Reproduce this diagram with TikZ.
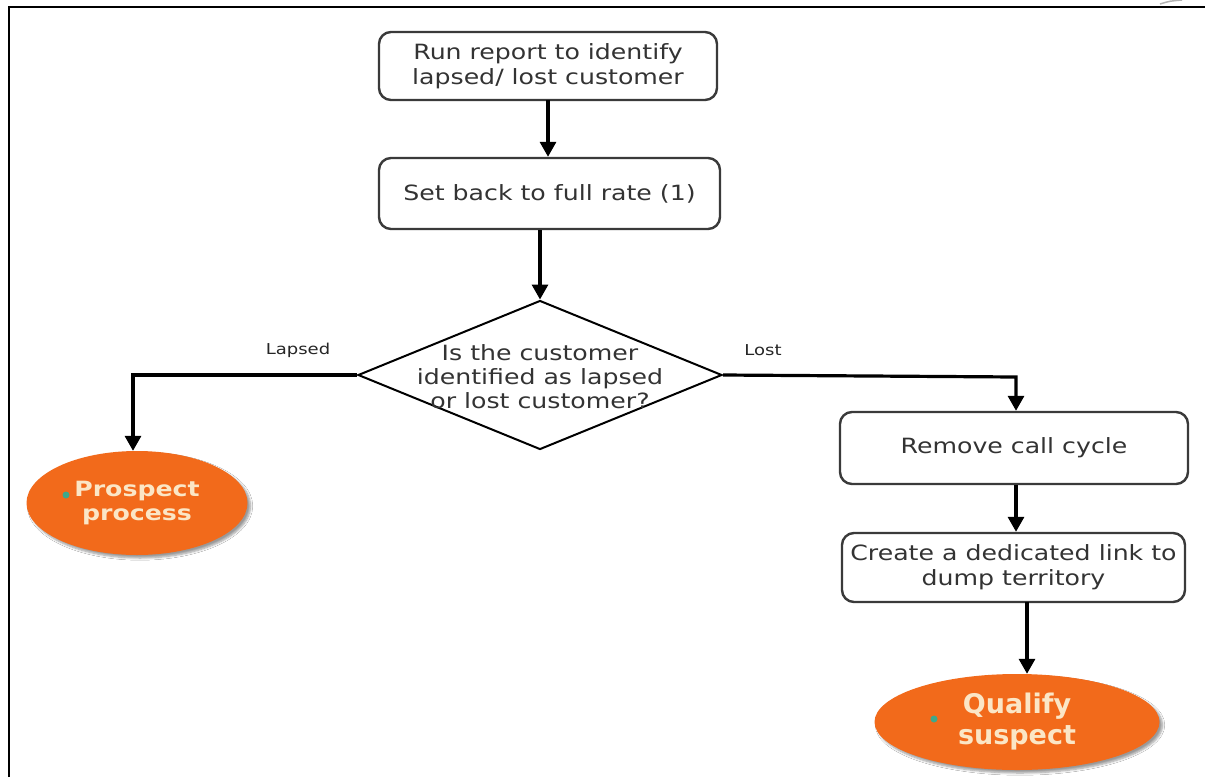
\documentclass[tikz,border=0pt]{standalone}
\usepackage{fontspec}
\setmainfont{DejaVu Sans}[FakeStretch=1.2]
\newfontfamily\ellfont{DejaVu Sans}
\usetikzlibrary{shapes.geometric,arrows.meta,shadows.blur}
\definecolor{boxline}{HTML}{3A3A3A}
\definecolor{txt}{HTML}{333333}
\definecolor{orng}{HTML}{F26A1B}
\definecolor{cream}{HTML}{FBE6C6}
\definecolor{gdot}{HTML}{3FA88A}
\begin{document}
\begin{tikzpicture}[x=1pt,y=-1pt,
  stepbox/.style={draw=boxline,line width=2.4pt,rounded corners=12pt,fill=white,text=txt,align=center,font=\fontsize{21}{25}\selectfont,inner sep=0pt},
  term/.style={ellipse,fill=orng,draw=none,text=cream,align=center,inner sep=0pt,blur shadow={shadow xshift=3pt,shadow yshift=-3pt,shadow blur steps=6}},
  conn/.style={draw=black,line width=3.2pt,-{Triangle[width=16pt,length=15pt]}},
  lbl/.style={font=\fontsize{15}{18}\selectfont,text=black!85}]
\useasboundingbox (0,0) rectangle (1205,777);
\fill[white] (0,0) rectangle (1205,777);
% frame
\draw[line width=2.5pt] (9,777) -- (9,7) -- (1205,7);
\draw[gray!60,line width=1.5pt] (1160,4) .. controls (1170,1) .. (1182,0);
% nodes
\node[stepbox,minimum width=338pt,minimum height=68pt] (b1) at (548,66) {Run report to identify\\lapsed/ lost customer};
\node[stepbox,minimum width=341pt,minimum height=71pt] (b2) at (549.5,193.5) {Set back to full rate (1)};
\node[diamond,draw=black,line width=2pt,fill=white,minimum width=364pt,minimum height=149pt,inner sep=0pt] (d) at (540,375) {};
\node[text=txt,align=center,font=\fontsize{21}{24}\selectfont] at (540,377) {Is the customer\\identified as lapsed\\or lost customer?};
\node[stepbox,minimum width=348pt,minimum height=72pt] (b3) at (1014,448) {Remove call cycle};
\node[stepbox,minimum width=343pt,minimum height=69pt] (b4) at (1013.5,567.5) {Create a dedicated link to\\dump territory};
\node[term,minimum width=221pt,minimum height=104pt,font=\bfseries\fontsize{21}{24}\selectfont] (p) at (137,503) {Prospect\\process};
\node[term,minimum width=285pt,minimum height=96pt,font=\ellfont\bfseries\fontsize{27}{31}\selectfont] (q) at (1017,722) {Qualify\\suspect};
\fill[gdot] (66,495) circle (3.5pt);
\fill[gdot] (934,719) circle (3.5pt);
\node[lbl] (l1) at (298,350) {Lapsed};
\node[lbl] (l2) at (763,350) {Lost};
% connectors
\coordinate (tc) at (548,100);
\draw[conn] (tc) -- (tc |- b2.north);
\draw[conn] (b2.south -| d.north) -- (d.north);
\coordinate (lc) at (133,375);
\coordinate (rc) at (1016,377);
\draw[conn] (d.west) -- (lc) -- (lc |- p.north);
\draw[conn] (d.east) -- (rc) -- (rc |- b3.north);
\draw[conn] (b3.south -| rc) -- (rc |- b4.north);
\coordinate (qc) at (1027,602);
\draw[conn] (qc) -- (qc |- q.north);
\end{tikzpicture}
\end{document}
